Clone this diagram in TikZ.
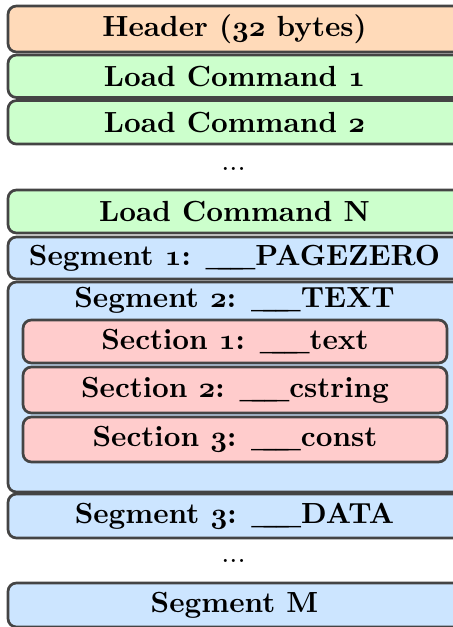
\documentclass[tikz,border=0pt]{standalone}
\newcommand\pxu{0.3434pt}
\newcommand\osn[1]{{\usefont{OML}{cmm}{b}{it}#1}}
\newcommand\usc{\_\kern-4.5pt\_\kern-4.5pt\_}
\definecolor{bordergray}{HTML}{444444}
\definecolor{peachfill}{HTML}{FFDAB9}
\definecolor{greenfill}{HTML}{CCFFCC}
\definecolor{bluefill}{HTML}{CCE5FF}
\definecolor{redfill}{HTML}{FFCCCC}
\begin{document}
\begin{tikzpicture}[x=\pxu,y=-\pxu,
  layerbox/.style={draw=bordergray, line width=0.93pt, rounded corners=2.9pt,
    minimum width=453*\pxu, inner sep=0pt, font=\bfseries, anchor=center},
  sectbox/.style={layerbox, fill=redfill, minimum width=424*\pxu},
  dotsnode/.style={inner sep=0pt, anchor=center}]
\useasboundingbox (0,0) rectangle (452,627);
\node[layerbox, fill=peachfill, minimum height=46*\pxu] (hdr) at (234.5,29) {Header (\osn{32} bytes)};
\node[layerbox, fill=greenfill, minimum height=42.5*\pxu] (lc1) at (234.5,76.25) {Load Command \osn{1}};
\node[layerbox, fill=greenfill, minimum height=43.5*\pxu] (lc2) at (234.5,122.3) {Load Command \osn{2}};
\node[dotsnode] (dots1) at (233.5,169) {...};
\node[layerbox, fill=greenfill, minimum height=43*\pxu] (lcn) at (234.5,211.5) {Load Command N};
\node[layerbox, fill=bluefill, minimum height=42*\pxu] (seg1) at (234.5,258) {Segment \osn{1}: \usc PAGEZERO};
\node[layerbox, fill=bluefill, minimum height=210*\pxu] (seg2) at (234.5,387) {};
\node[inner sep=0pt, font=\bfseries, anchor=center] (seg2label) at (234.5,300) {Segment \osn{2}: \usc TEXT};
\node[sectbox, minimum height=43*\pxu] (sec1) at (235,341.5) {Section \osn{1}: \usc text};
\node[sectbox, minimum height=46*\pxu] (sec2) at (235,390) {Section \osn{2}: \usc cstring};
\node[sectbox, minimum height=45*\pxu] (sec3) at (235,439.5) {Section \osn{3}: \usc const};
\node[layerbox, fill=bluefill, minimum height=44*\pxu] (seg3) at (234.5,516) {Segment \osn{3}: \usc DATA};
\node[dotsnode] (dots2) at (233.5,561) {...};
\node[layerbox, fill=bluefill, minimum height=44*\pxu] (segm) at (234.5,605) {Segment M};
\end{tikzpicture}
\end{document}
